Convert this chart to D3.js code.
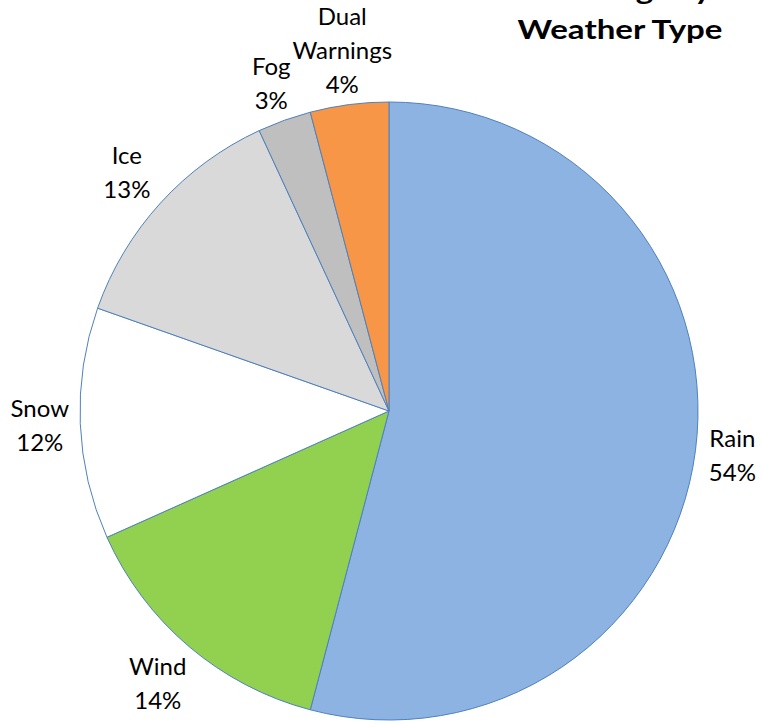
<!DOCTYPE html>
<html>
<head>
<meta charset="utf-8">
<script src="https://cdn.jsdelivr.net/npm/d3@7"></script>
<style>
  html, body { margin: 0; padding: 0; background: #ffffff; }
  svg { display: block; }
</style>
</head>
<body>
<svg id="chart" width="763" height="727"></svg>
<script>
// Share of warnings by weather type (percent), clockwise from 12 o'clock
const categories = ["Rain", "Wind", "Snow", "Ice", "Fog", "Dual Warnings"];
const shares = [54.1, 14.2, 12.1, 12.7, 2.8, 4.1];
const sliceColors = ["#8DB3E2", "#92D050", "#FFFFFF", "#D9D9D9", "#BFBFBF", "#F79646"];
const titleLines = ["Warnings by", "Weather Type"];

const width = 763, height = 727;
const cx = 389, cy = 411, radius = 309;
const gapX = 10, gapY = 5;
const labelSize = 24;
const lineHeight = 34;
const capRatio = 0.72;
const labelFont = "Lato, 'Open Sans', sans-serif";

const svg = d3.select("#chart");

const data = categories.map((c, i) => ({ name: c, value: shares[i], color: sliceColors[i] }));
const pie = d3.pie().value(d => d.value).sort(null);
const arc = d3.arc().innerRadius(0).outerRadius(radius);
const arcs = pie(data);

const g = svg.append("g").attr("transform", `translate(${cx},${cy})`);

g.selectAll("path.slice")
  .data(arcs)
  .join("path")
  .attr("class", "slice")
  .attr("d", arc)
  .attr("fill", d => d.data.color)
  .attr("stroke", "#4F81BD")
  .attr("stroke-width", 1)
  .attr("stroke-linejoin", "round");

// Category name above, rounded percent below, placed just outside each slice
const total = d3.sum(shares);
const labels = g.selectAll("g.label")
  .data(arcs)
  .join("g")
  .attr("class", "label");

labels.each(function(d) {
  const sel = d3.select(this);
  const words = d.data.name === "Dual Warnings" ? ["Dual", "Warnings"] : [d.data.name];
  const lines = words.concat([Math.round(d.data.value / total * 100) + "%"]);
  const text = sel.append("text")
    .attr("text-anchor", "middle")
    .attr("font-family", labelFont)
    .attr("font-size", labelSize)
    .attr("fill", "#000");
  lines.forEach((t, i) => {
    text.append("tspan").attr("x", 0).attr("y", i * lineHeight).text(t);
  });
  const w = text.node().getBBox().width;
  const cap = capRatio * labelSize;
  // visible block: cap top of first line to baseline of last line
  const h = (lines.length - 1) * lineHeight + cap;
  const oy = ((lines.length - 1) * lineHeight - cap) / 2;
  const mid = (d.startAngle + d.endAngle) / 2;
  const sx = Math.sin(mid), sy = -Math.cos(mid);
  const ax = Math.abs(sx), ay = Math.abs(sy);
  const dist = radius + gapX * ax + gapY * ay + ax * w / 2 + ay * h / 2;
  sel.attr("transform", `translate(${sx * dist},${sy * dist - oy})`);
});

// Title, top right (first line runs off the top edge)
const titleX = 620, titleWidth = 205;
const title = svg.append("g");
const t2 = title.append("text")
  .attr("x", titleX).attr("y", 39)
  .attr("text-anchor", "middle")
  .attr("font-family", labelFont)
  .attr("font-weight", "bold")
  .attr("font-size", 26)
  .attr("fill", "#000")
  .text(titleLines[1]);
const stretch = titleWidth / t2.node().getComputedTextLength();
t2.attr("textLength", titleWidth).attr("lengthAdjust", "spacingAndGlyphs");
const t1 = title.append("text")
  .attr("x", titleX).attr("y", 0)
  .attr("text-anchor", "middle")
  .attr("font-family", labelFont)
  .attr("font-weight", "bold")
  .attr("font-size", 26)
  .attr("fill", "#000")
  .text(titleLines[0]);
t1.attr("textLength", t1.node().getComputedTextLength() * stretch)
  .attr("lengthAdjust", "spacingAndGlyphs");
</script>
</body>
</html>
